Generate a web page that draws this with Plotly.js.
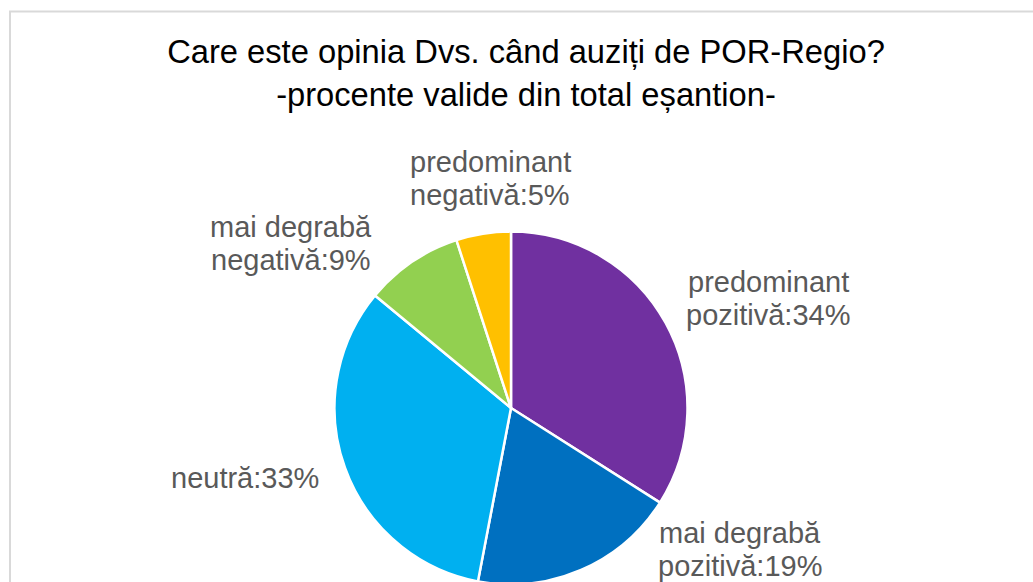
<!DOCTYPE html>
<html>
<head>
<meta charset="utf-8">
<script src="https://cdn.plot.ly/plotly-3.0.1.min.js"></script>
<style>
  html, body { margin: 0; padding: 0; background: #ffffff; overflow: hidden; }
  #chart { width: 1033px; height: 600px; }
</style>
</head>
<body>
<div id="chart"></div>
<script>
// ---- data ----
var categories = ['predominant pozitivă', 'mai degrabă pozitivă', 'neutră', 'mai degrabă negativă', 'predominant negativă'];
var values = [34, 19, 33, 9, 5];
var colors = ['#7030A0', '#0070C0', '#00B0F0', '#92D050', '#FFC000'];
var titleLines = ['Care este opinia Dvs. când auziți de POR-Regio?', '-procente valide din total eșantion-'];

// ---- layout helpers (pixel positions of label blocks: centre x, first-line baseline y) ----
var W = 1033, H = 600;
var labelPos = [
  [768, 292],
  [740, 543],
  [245, 488],
  [291, 237],
  [490, 172]
];
var labelSize = 29, lineGap = 33;

function px(x) { return x / W; }
function py(y) { return 1 - y / H; }

var annotations = [];
categories.forEach(function (c, i) {
  var idx = c.lastIndexOf(' ');
  var lines = idx < 0 ? [c + ':' + values[i] + '%']
                      : [c.slice(0, idx), c.slice(idx + 1) + ':' + values[i] + '%'];
  lines.forEach(function (ln, k) {
    var baseline = labelPos[i][1] + k * lineGap;
    annotations.push({
      text: ln, xref: 'paper', yref: 'paper',
      x: px(labelPos[i][0]), y: py(baseline - 10),
      xanchor: 'center', yanchor: 'middle', showarrow: false,
      font: { family: 'Liberation Sans, Arial, sans-serif', size: labelSize, color: '#595959' }
    });
  });
});

var cx = 511, cy = 408, r = 176.5;
var trace = {
  type: 'pie',
  labels: categories,
  values: values,
  sort: false,
  direction: 'clockwise',
  rotation: 0,
  textinfo: 'none',
  hoverinfo: 'label+percent',
  marker: { colors: colors, line: { color: '#ffffff', width: 2.5 } },
  domain: { x: [px(cx - r), px(cx + r)], y: [py(cy + r), py(cy - r)] },
  showlegend: false
};

var layout = {
  width: W, height: H,
  margin: { l: 0, r: 0, t: 0, b: 0 },
  paper_bgcolor: '#ffffff',
  font: { family: 'Liberation Sans, Arial, sans-serif' },
  title: {
    text: titleLines.join('<br>'),
    font: { family: 'Liberation Sans, Arial, sans-serif', size: 32.7, color: '#000000' },
    x: px(526), xref: 'paper', xanchor: 'center',
    y: 1 - 63 / H, yref: 'container', yanchor: 'top'
  },
  annotations: annotations,
  shapes: [{
    type: 'rect', xref: 'paper', yref: 'paper', layer: 'above',
    x0: px(10), x1: 1.05, y0: -0.05, y1: py(11.5),
    line: { color: '#d9d9d9', width: 2 }, fillcolor: 'rgba(0,0,0,0)'
  }]
};

Plotly.newPlot('chart', [trace], layout, { displayModeBar: false, staticPlot: true });
</script>
</body>
</html>
